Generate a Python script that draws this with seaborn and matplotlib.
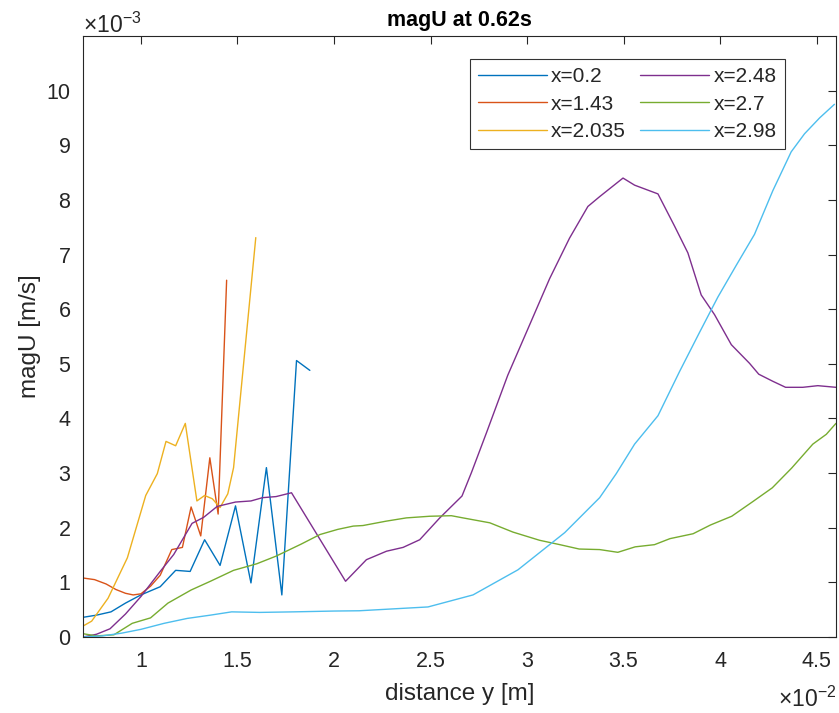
import matplotlib
matplotlib.use("Agg")
import matplotlib.pyplot as plt
import seaborn as sns
import pandas as pd

# distance y in units of 1e-2 m, magU in units of 1e-3 m/s
x_02 = [0.70, 0.77, 0.845, 0.92, 1.00, 1.10, 1.18, 1.255, 1.33, 1.41, 1.49, 1.57, 1.65, 1.73, 1.806, 1.875]
u_02 = [0.36, 0.40, 0.46, 0.62, 0.77, 0.92, 1.22, 1.20, 1.78, 1.31, 2.40, 0.99, 3.10, 0.77, 5.06, 4.88]

x_143 = [0.70, 0.76, 0.82, 0.87, 0.92, 0.96, 1.00, 1.05, 1.10, 1.16, 1.215, 1.26, 1.31, 1.357, 1.40, 1.444]
u_143 = [1.08, 1.05, 0.97, 0.87, 0.80, 0.77, 0.79, 0.93, 1.13, 1.60, 1.64, 2.38, 1.85, 3.28, 2.25, 6.53]

x_2035 = [0.70, 0.745, 0.83, 0.93, 1.025, 1.085, 1.13, 1.18, 1.23, 1.29, 1.33, 1.37, 1.41, 1.45, 1.48, 1.595]
u_2035 = [0.20, 0.29, 0.71, 1.45, 2.59, 2.99, 3.58, 3.50, 3.91, 2.49, 2.59, 2.53, 2.37, 2.62, 3.10, 7.31]

x_248 = [0.70, 0.77, 0.84, 0.92, 1.00, 1.10, 1.17, 1.265, 1.325, 1.395, 1.49, 1.57, 1.63, 1.70, 1.78,
         2.06, 2.168, 2.272, 2.358, 2.444, 2.548, 2.663, 2.712, 2.79, 2.90, 2.997, 3.117, 3.22, 3.315,
         3.376, 3.497, 3.557, 3.678, 3.764, 3.833, 3.902, 3.971, 4.058, 4.152, 4.20, 4.273, 4.339,
         4.428, 4.506, 4.60]
u_248 = [0.00, 0.05, 0.15, 0.42, 0.74, 1.20, 1.51, 2.08, 2.19, 2.39, 2.47, 2.49, 2.55, 2.57, 2.64,
         1.02, 1.415, 1.57, 1.64, 1.78, 2.18, 2.58, 3.01, 3.74, 4.79, 5.58, 6.56, 7.30, 7.88,
         8.06, 8.40, 8.27, 8.11, 7.52, 7.03, 6.26, 5.90, 5.35, 5.01, 4.81, 4.68, 4.57,
         4.57, 4.60, 4.57]

x_27 = [0.70, 0.77, 0.86, 0.955, 1.05, 1.14, 1.26, 1.36, 1.48, 1.60, 1.70, 1.83, 1.927, 2.02, 2.10,
        2.15, 2.27, 2.375, 2.496, 2.608, 2.668, 2.807, 2.927, 3.065, 3.17, 3.27, 3.376, 3.47, 3.56,
        3.66, 3.74, 3.86, 3.95, 4.06, 4.17, 4.27, 4.37, 4.48, 4.55, 4.60]
u_27 = [0.06, 0.02, 0.04, 0.25, 0.35, 0.62, 0.86, 1.02, 1.22, 1.34, 1.48, 1.70, 1.875, 1.97, 2.03,
        2.04, 2.12, 2.18, 2.21, 2.22, 2.18, 2.09, 1.92, 1.77, 1.69, 1.61, 1.60, 1.55, 1.65,
        1.69, 1.80, 1.89, 2.05, 2.21, 2.48, 2.73, 3.09, 3.53, 3.71, 3.91]

x_298 = [0.70, 0.80, 0.90, 1.00, 1.12, 1.24, 1.36, 1.47, 1.615, 1.79, 2.00, 2.13, 2.487, 2.72, 2.953,
         3.195, 3.376, 3.462, 3.557, 3.678, 3.79, 3.894, 3.988, 4.083, 4.178, 4.273, 4.368, 4.437,
         4.515, 4.592]
u_298 = [0.00, 0.02, 0.07, 0.14, 0.25, 0.34, 0.40, 0.46, 0.45, 0.46, 0.475, 0.48, 0.55, 0.77, 1.23,
         1.91, 2.55, 2.99, 3.53, 4.05, 4.86, 5.58, 6.22, 6.80, 7.37, 8.17, 8.88, 9.21,
         9.50, 9.75]

series_labels = ["x=0.2", "x=1.43", "x=2.035", "x=2.48", "x=2.7", "x=2.98"]
series_x = [x_02, x_143, x_2035, x_248, x_27, x_298]
series_u = [u_02, u_143, u_2035, u_248, u_27, u_298]
line_colors = ["#0072BD", "#D95319", "#EDB120", "#7E2F8E", "#77AC30", "#4DBEEE"]

x_ticks = [1, 1.5, 2, 2.5, 3, 3.5, 4, 4.5]
y_ticks = list(range(0, 11))

frames = []
for lab, xs, us in zip(series_labels, series_x, series_u):
    frames.append(pd.DataFrame({"y": xs, "magU": us, "probe": lab}))
df = pd.concat(frames, ignore_index=True)

sns.set_theme(style="white")
plt.rcParams["font.family"] = ["Liberation Sans", "DejaVu Sans"]
plt.rcParams["mathtext.fontset"] = "custom"
plt.rcParams["mathtext.rm"] = "Liberation Sans"

axis_col = "#262626"
fig = plt.figure(figsize=(8.39, 7.13), dpi=100)
ax = fig.add_axes([0.0989, 0.1066, 0.8975, 0.8429])

sns.lineplot(data=df, x="y", y="magU", hue="probe", hue_order=series_labels,
             palette=line_colors, estimator=None, sort=False, linewidth=1.0, ax=ax)

ax.set_xlim(0.7, 4.6)
ax.set_ylim(0, 11)
ax.set_xticks(x_ticks)
ax.set_xticklabels([f"{t:g}" for t in x_ticks])
ax.set_yticks(y_ticks)
ax.set_yticklabels([str(t) for t in y_ticks])
ax.tick_params(direction="in", length=6, width=0.8, colors=axis_col, labelsize=15.5,
               top=True, right=True)
ax.tick_params(axis="y", pad=9)
ax.tick_params(axis="x", pad=10)
for sp in ax.spines.values():
    sp.set_color(axis_col)
    sp.set_linewidth(0.8)

ax.set_xlabel("distance y [m]", fontsize=17.5, color=axis_col, labelpad=8)
ax.set_ylabel("magU [m/s]", fontsize=17.5, color=axis_col, labelpad=4)
ax.set_title("magU at 0.62s", fontsize=15.5, fontweight="bold", color="black", pad=7)

ax.text(0.0, 1.006, r"$\times\mathregular{10^{-3}}$", transform=ax.transAxes,
        fontsize=16.5, color=axis_col, ha="left", va="baseline")
ax.text(1.0, -0.082, r"$\times\mathregular{10^{-2}}$", transform=ax.transAxes,
        fontsize=16.5, color=axis_col, ha="right", va="top")

handles, labels = ax.get_legend_handles_labels()
leg = ax.legend(handles, labels, ncol=2, loc="upper right", bbox_to_anchor=(0.932, 0.962),
                fontsize=15, frameon=True, fancybox=False, edgecolor="black",
                handlelength=3.3, columnspacing=0.7, handletextpad=0.2,
                labelspacing=0.4, borderpad=0.4, borderaxespad=0.0)
leg.get_frame().set_linewidth(0.8)

fig.savefig("out.png", dpi=100)
